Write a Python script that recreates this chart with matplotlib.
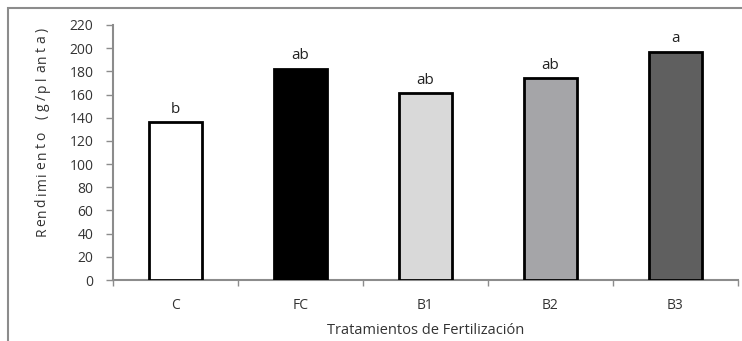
import numpy as np
from matplotlib import pyplot as plt
from matplotlib.patches import Rectangle

# data
treatments = ['C', 'FC', 'B1', 'B2', 'B3']
rendimiento = [136, 182, 161, 174, 197]
letters = ['b', 'ab', 'ab', 'ab', 'a']
bar_colors = ['white', 'black', '#d9d9d9', '#a5a5a8', '#5f5f5f']
ylabel_text = 'Rendimiento (g/planta)'

fig = plt.figure(figsize=(7.42, 3.41), dpi=100)
W, H = 742, 341

# outer chart frame (only top and left edge visible)
frame = Rectangle((8 / W, -0.1), 1.2, (341 - 8) / H + 0.1, transform=fig.transFigure,
                  fill=False, edgecolor='#8c8c8c', linewidth=1.5)
fig.patches.append(frame)

ax = fig.add_axes([113 / W, (H - 280) / H, (738 - 113) / W, (280 - 25) / H])

x = np.arange(len(treatments))
ax.bar(x, rendimiento, width=0.42, color=bar_colors, edgecolor='black', linewidth=2, zorder=3)

for xi, v, lt in zip(x, rendimiento, letters):
    ax.text(xi, v + 5, lt, ha='center', va='bottom', fontsize=11, color='#222222',
            family='Open Sans')

ax.set_xlim(-0.5, len(treatments) - 0.5)
ax.set_ylim(0, 220)
ax.set_yticks(np.arange(0, 221, 20))
ax.set_xticks(x)
ax.set_xticklabels(treatments)
ax.set_xticks(np.arange(-0.5, len(treatments)), minor=True)

for side in ['top', 'right']:
    ax.spines[side].set_visible(False)
for side in ['left', 'bottom']:
    ax.spines[side].set_color('#8c8c8c')
    ax.spines[side].set_linewidth(1.5)

ax.tick_params(axis='y', direction='out', length=5, color='#8c8c8c', width=1,
               labelsize=10, labelcolor='#333333', pad=9)
ax.tick_params(axis='x', which='major', length=0, labelsize=10, labelcolor='#333333', pad=13)
ax.tick_params(axis='x', which='minor', direction='out', length=4, color='#8c8c8c', width=1)
for lab in ax.get_xticklabels() + ax.get_yticklabels():
    lab.set_family('Open Sans')

ax.set_xlabel('Tratamientos de Fertilización', fontsize=10.5, color='#333333',
              family='Open Sans', labelpad=7)

# y label drawn as a stack of rotated glyphs, like the reference
n = len(ylabel_text)
y_bottom, y_top = 232, 30
for i, ch in enumerate(ylabel_text):
    yy = y_bottom - i * (y_bottom - y_top) / (n - 1)
    fig.text(42 / W, (H - yy) / H, ch, rotation=90, ha='center', va='center',
             fontsize=10, color='#333333', family='Open Sans')

fig.savefig('out.png', dpi=100)
